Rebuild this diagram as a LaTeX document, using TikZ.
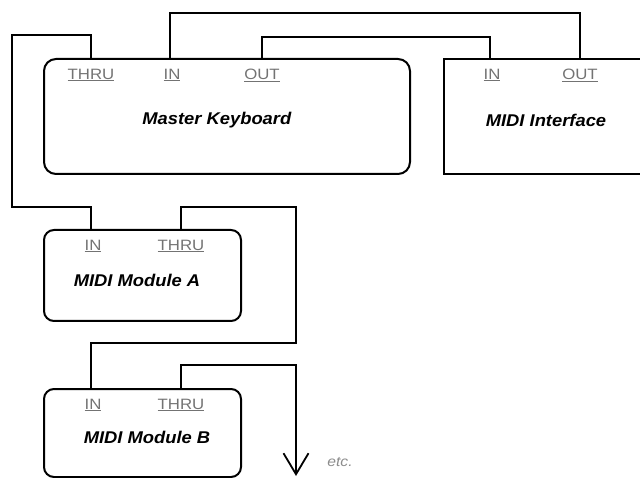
\documentclass[tikz,border=0pt]{standalone}
\usepackage{fontspec}
\setmainfont{Liberation Sans}
\usetikzlibrary{arrows.meta}
\newcommand{\midiPort}[1]{\underline{#1}}
\newcommand{\midiName}[1]{\textbf{\textit{#1}}}

\begin{document}
\begin{tikzpicture}[x=1pt,y=-1pt,
  devbox/.style={draw, line width=2pt, anchor=north west, inner sep=0pt},
  portlabel/.style={inner sep=0pt, text=black!55, xscale=1.12, font=\fontsize{15}{15}\selectfont},
  devname/.style={inner sep=0pt, xscale=1.08, font=\fontsize{17}{17}\selectfont},
  wire/.style={line width=1.6pt}]
\clip (0,0) rectangle (640,478);
\node[devbox, rounded corners=12pt, minimum width=366pt, minimum height=115pt] (kb) at (43,58) {};
\node[devbox, minimum width=220pt, minimum height=115pt] (iface) at (443,58) {};
\node[devbox, rounded corners=10pt, minimum width=197pt, minimum height=91pt] (modA) at (43,229) {};
\node[devbox, rounded corners=10pt, minimum width=197pt, minimum height=88pt] (modB) at (43,388) {};
\node[portlabel] (kbThru) at (91,75) {\midiPort{THRU}};
\node[portlabel] (kbIn) at (172,75) {\midiPort{IN}};
\node[portlabel] (kbOut) at (262,75) {\midiPort{OUT}};
\node[portlabel] (ifIn) at (492,75) {\midiPort{IN}};
\node[portlabel] (ifOut) at (580,75) {\midiPort{OUT}};
\node[portlabel] (modAIn) at (93,246) {\midiPort{IN}};
\node[portlabel] (modAThru) at (181,246) {\midiPort{THRU}};
\node[portlabel] (modBIn) at (93,405) {\midiPort{IN}};
\node[portlabel] (modBThru) at (181,405) {\midiPort{THRU}};
\node[devname] (kbName) at (217,120) {\midiName{Master Keyboard}};
\node[devname] (ifName) at (546,120) {\midiName{MIDI Interface}};
\node[devname] (modAName) at (137,280) {\midiName{MIDI Module A}};
\node[devname] (modBName) at (147,437) {\midiName{MIDI Module B}};
\node[portlabel, text=black!45, font=\fontsize{14}{14}\selectfont\itshape] (etc) at (340,462) {etc.};
\coordinate (kbThruP) at (91,58);
\coordinate (kbInP) at (170,58);
\coordinate (kbOutP) at (262,58);
\coordinate (ifInP) at (490,58);
\coordinate (ifOutP) at (580,58);
\coordinate (modAInP) at (91,229);
\coordinate (modAThruP) at (181,229);
\coordinate (modBInP) at (91,388);
\coordinate (modBThruP) at (181,388);
\coordinate (etcEnd) at (296,476);
\draw[wire] (kbInP) -- ++(0,-45) -| (ifOutP);
\draw[wire] (kbOutP) -- ++(0,-21) -| (ifInP);
\draw[wire] (kbThruP) -- ++(0,-23) -| ++(-79,172) -| (modAInP);
\draw[wire] (modAThruP) -- ++(0,-22) -| ++(115,136) -| (modBInP);
\draw[wire, -{Straight Barb[length=21pt,width=25pt,line width=1.8pt]}] (modBThruP) -- ++(0,-23) -| (etcEnd);
\end{tikzpicture}
\end{document}
